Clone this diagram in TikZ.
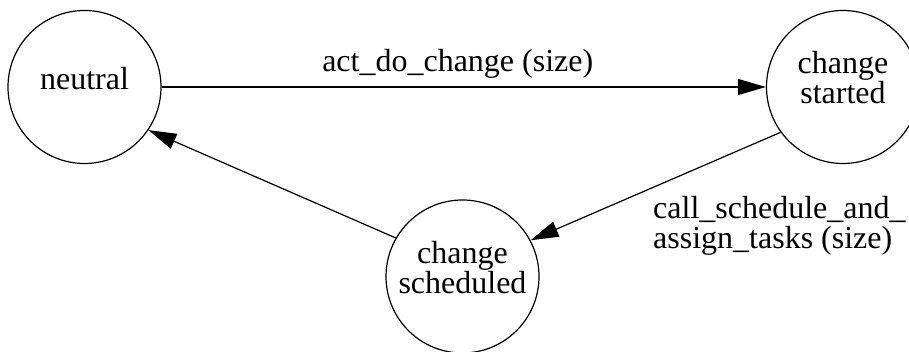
\documentclass[tikz,border=0pt]{standalone}
\usepackage{fontspec}
\setmainfont{Liberation Serif}
\usetikzlibrary{arrows.meta}
\tikzset{
  state/.style={circle, draw, minimum size=76.5pt, inner sep=0pt},
  statetext/.style={align=center, inner sep=0pt},
  edgelabel/.style={inner sep=0pt, align=left}
}
\begin{document}
\begin{tikzpicture}[x=0.5pt, y=0.5pt, >={Triangle[length=14pt,width=8pt]}, line width=0.6pt, font=\fontsize{16}{15}\selectfont]
    \clip (0,0) rectangle (909,352);
    % States
    \node[state] (neutral) at (84.5,265) {};
    \node[state] (started) at (843,265) {};
    \node[state] (scheduled) at (462.5,75.5) {};
    % State names
    \node[statetext] (neutraltext) at ([yshift=4pt]neutral.center) {neutral};
    \node[statetext] (startedtext) at ([yshift=4.5pt]started.center) {change\\started};
    \node[statetext] (scheduledtext) at ([yshift=4.5pt]scheduled.center) {change\\scheduled};
    % Transitions
    \draw[->] (neutral) -- (started)
        node[edgelabel, midway, above=4pt, xshift=-3pt] (actlabel) {act\_do\_change (size)};
    \draw[->] (started.216) -- (scheduled.28)
        node[edgelabel, midway, anchor=north west, xshift=-1.5pt, yshift=-4.5pt] (calllabel) {call\_schedule\_and\_\\assign\_tasks (size)};
    \draw[->] (scheduled.150) -- (neutral.-34);
\end{tikzpicture}
\end{document}
